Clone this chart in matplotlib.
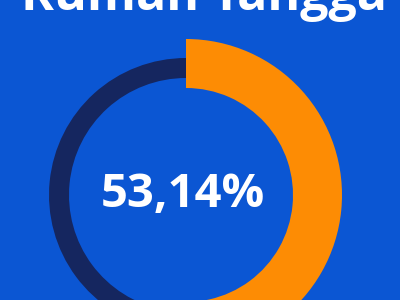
import matplotlib
matplotlib.use('Agg')
import matplotlib.pyplot as plt

title = 'Rumah Tangga'
share = 53.14
label = '53,14%'
values = [share, 100 - share]

bg = '#0b56d3'
orange = '#fd8c04'
navy = '#15265f'

fig = plt.figure(figsize=(4, 3), dpi=100, facecolor=bg)
ax = fig.add_axes([0, 0, 1, 1])
ax.set_facecolor(bg)

# orange part, thick ring
ax.pie(values, colors=[orange, 'none'], startangle=90, counterclock=False,
       radius=156, center=(186, 105), wedgeprops=dict(width=49, linewidth=0))
# rest, thinner ring inside
ax.pie(values, colors=['none', navy], startangle=90, counterclock=False,
       radius=137, center=(186, 105), wedgeprops=dict(width=20, linewidth=0))

ax.set_xlim(0, 400)
ax.set_ylim(0, 300)
ax.set_aspect('equal')
ax.axis('off')

ax.text(204, 290, title, ha='center', va='baseline', color='white',
        fontsize=36, fontweight='bold', family='Open Sans')
ax.text(183, 93, label, ha='center', va='baseline', color='white',
        fontsize=34, fontweight='bold', family='Open Sans')

fig.savefig('out.png', dpi=100, facecolor=bg)
